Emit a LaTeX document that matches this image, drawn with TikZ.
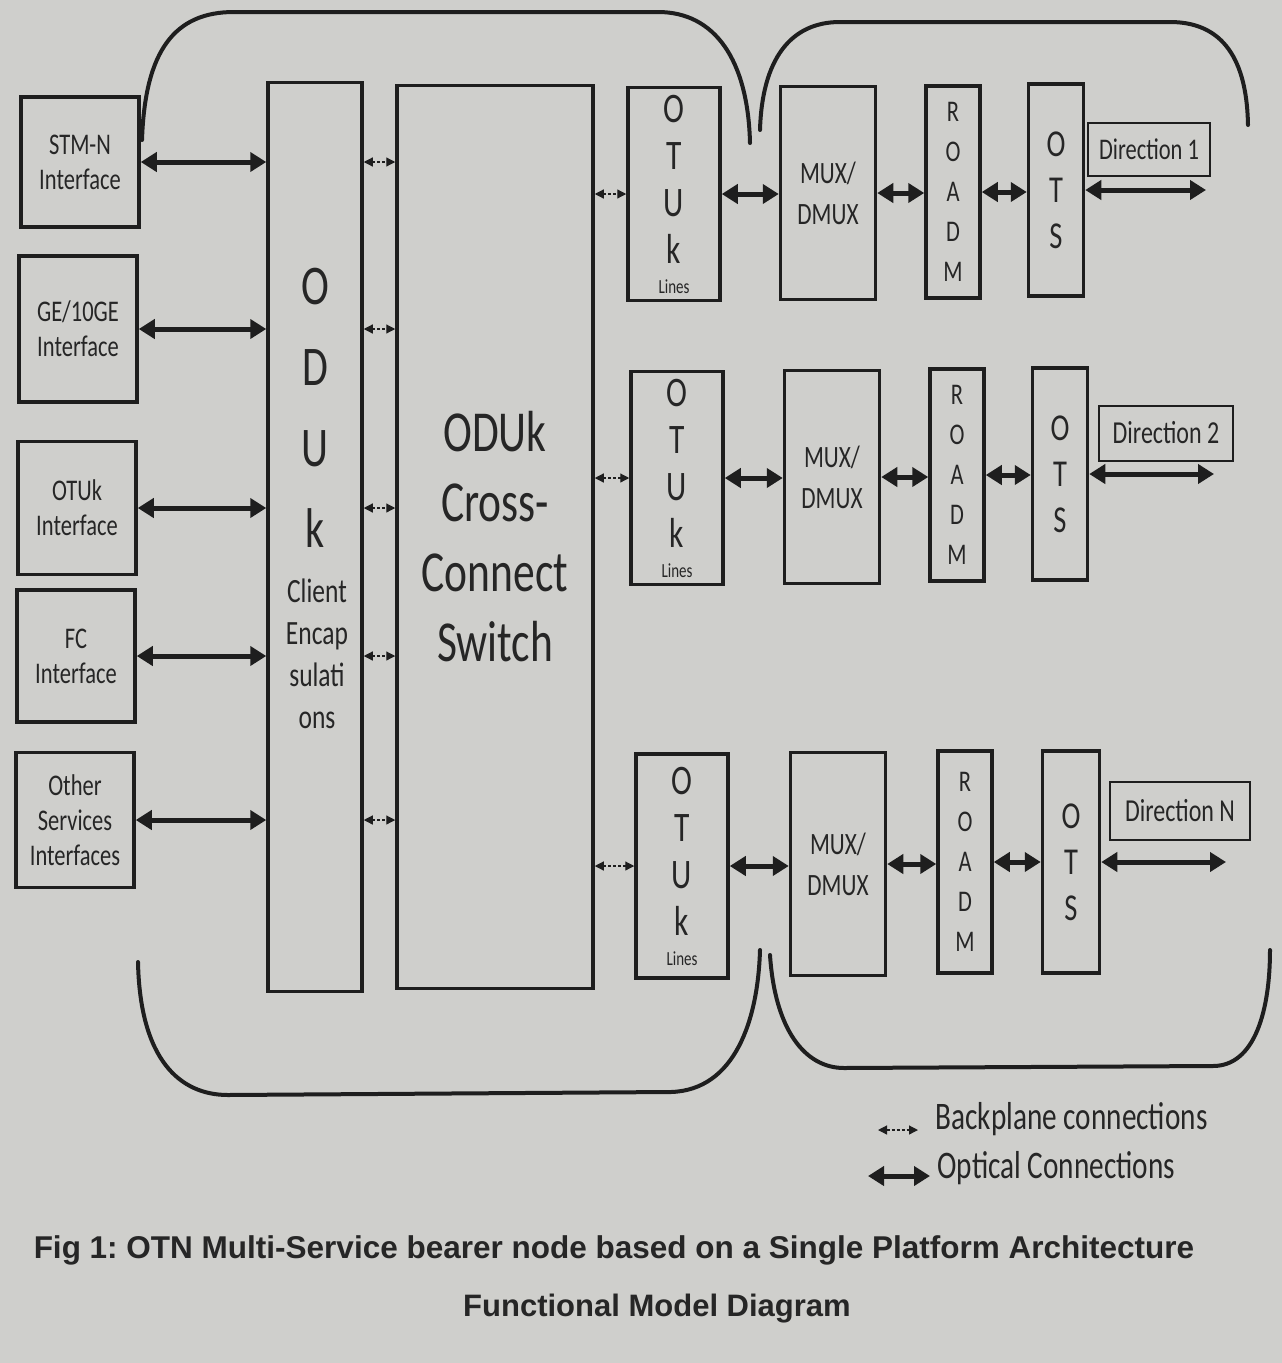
\documentclass[tikz,border=0pt]{standalone}
\usepackage{fontspec}
\setmainfont{Carlito}[FakeStretch=0.75]
\newfontfamily\capfont{Liberation Sans}
\usetikzlibrary{arrows.meta,positioning}
\frenchspacing
\definecolor{paper}{RGB}{207,207,204}
\definecolor{ink}{RGB}{30,30,30}
\definecolor{txt}{RGB}{38,38,38}
\tikzset{
  box/.style={draw=ink, line width=3.5pt, text=txt, align=center, inner sep=0pt},
  ifbox/.style={box, minimum width=118pt, font=\fontsize{30}{35}\selectfont},
  otubox/.style={box, minimum width=92pt, minimum height=213pt, font=\fontsize{42}{47}\selectfont},
  muxbox/.style={box, minimum width=95pt, minimum height=213pt, font=\fontsize{31}{41}\selectfont},
  roadmbox/.style={box, minimum width=54pt, minimum height=212pt, font=\fontsize{30}{40}\selectfont},
  otsbox/.style={box, minimum width=55pt, minimum height=212pt, font=\fontsize{38}{46}\selectfont},
  dirbox/.style={draw=ink, line width=2pt, text=txt, inner sep=0pt, font=\fontsize{32}{36}\selectfont},
  opt/.style={draw=ink, line width=5pt, {Triangle[length=16pt,width=19pt]}-{Triangle[length=16pt,width=19pt]}},
  bp/.style={draw=ink, line width=1.2pt, densely dashed, {Triangle[length=9pt,width=9pt]}-{Triangle[length=9pt,width=9pt]}},
  bracket/.style={draw=ink, line width=4pt, line cap=round}
}
\begin{document}
\begin{tikzpicture}[x=1pt,y=-1pt]
\fill[paper] (0,0) rectangle (1282,1363);
\useasboundingbox (0,0) rectangle (1282,1363);

% client interfaces
\node[ifbox, minimum height=130pt] (stm) at (80,162) {STM-N\\Interface};
\node[ifbox, minimum height=146pt] (ge) at (78,329) {GE/10GE\\Interface};
\node[ifbox, minimum height=133pt] (otuif) at (77,508) {OTUk\\Interface};
\node[ifbox, minimum height=132pt] (fc) at (76,656) {FC\\Interface};
\node[ifbox, minimum height=135pt] (oth) at (75,820) {Other\\Services\\Interfaces};

% ODUk block and switch
\node[box, minimum width=94pt, minimum height=909pt] (odu) at (315,537) {};
\node[text=txt, align=center, font=\fontsize{56}{81}\selectfont] (odul) at (315,408) {O\\D\\U\\k};
\node[text=txt, align=center, font=\fontsize{34}{42}\selectfont] (oduc) at (317,654) {Client\\Encap\\sulati\\ons};
\node[box, minimum width=196pt, minimum height=903pt, font=\fontsize{58}{70}\selectfont] (xc) at (495,537) {ODUk\\Cross-\\Connect\\Switch};

\draw[opt] (stm.east) -- (stm.east -| odu.west);
\draw[opt] (ge.east) -- (ge.east -| odu.west);
\draw[opt] (otuif.east) -- (otuif.east -| odu.west);
\draw[opt] (fc.east) -- (fc.east -| odu.west);
\draw[opt] (oth.east) -- (oth.east -| odu.west);

\draw[bp] (odu.east |- stm.east) -- (xc.west |- stm.east);
\draw[bp] (odu.east |- ge.east) -- (xc.west |- ge.east);
\draw[bp] (odu.east |- otuif.east) -- (xc.west |- otuif.east);
\draw[bp] (odu.east |- fc.east) -- (xc.west |- fc.east);
\draw[bp] (odu.east |- oth.east) -- (xc.west |- oth.east);

% direction 1
\node[otubox] (otu1) at (674,194) {O\\T\\U\\k\\[-17pt]{\fontsize{20}{22}\selectfont Lines}};
\node[muxbox] (mux1) at (828,193) {MUX/\\DMUX};
\node[roadmbox] (roadm1) at (953,192) {R\\O\\A\\D\\M};
\node[otsbox] (ots1) at (1056,190) {O\\T\\S};
\node[dirbox, minimum width=122pt, minimum height=53pt, font=\fontsize{30}{34}\selectfont] (dir1) at (1149,149) {Direction 1};

% direction 2
\node[otubox] (otu2) at (677,478) {O\\T\\U\\k\\[-17pt]{\fontsize{20}{22}\selectfont Lines}};
\node[muxbox] (mux2) at (832,477) {MUX/\\DMUX};
\node[roadmbox] (roadm2) at (957,475) {R\\O\\A\\D\\M};
\node[otsbox] (ots2) at (1060,474) {O\\T\\S};
\node[dirbox, minimum width=134pt, minimum height=55pt] (dir2) at (1166,433) {Direction 2};

% direction N
\node[otubox, minimum height=224pt] (otuN) at (682,866) {O\\T\\U\\k\\[-17pt]{\fontsize{20}{22}\selectfont Lines}};
\node[muxbox, minimum height=223pt] (muxN) at (838,864) {MUX/\\DMUX};
\node[roadmbox, minimum height=222pt] (roadmN) at (965,862) {R\\O\\A\\D\\M};
\node[otsbox, minimum height=222pt, minimum width=57pt] (otsN) at (1071,862) {O\\T\\S};
\node[dirbox, minimum width=140pt, minimum height=58pt] (dirN) at (1180,811) {Direction N};

\draw[bp] (xc.east |- otu1.west) -- (otu1.west);
\draw[opt] (otu1.east) -- (otu1.east -| mux1.west);
\draw[opt] (mux1.east) -- (mux1.east -| roadm1.west);
\draw[opt] (roadm1.east) -- (roadm1.east -| ots1.west);
\draw[opt] (ots1.east) -- ([xshift=-5pt]ots1.east -| dir1.east);

\draw[bp] (xc.east |- otu2.west) -- (otu2.west);
\draw[opt] (otu2.east) -- (otu2.east -| mux2.west);
\draw[opt] (mux2.east) -- (mux2.east -| roadm2.west);
\draw[opt] (roadm2.east) -- (roadm2.east -| ots2.west);
\draw[opt] (ots2.east) -- ([xshift=-20pt]ots2.east -| dir2.east);

\draw[bp] (xc.east |- otuN.west) -- (otuN.west);
\draw[opt] (otuN.east) -- (otuN.east -| muxN.west);
\draw[opt] (muxN.east) -- (muxN.east -| roadmN.west);
\draw[opt] (roadmN.east) -- (roadmN.east -| otsN.west);
\draw[opt] (otsN.east) -- ([xshift=-25pt]otsN.east -| dirN.east);

% brackets
\draw[bracket] (142,140) .. controls (145,50) and (175,12) .. (234,12) -- (658,12) .. controls (715,12) and (748,60) .. (750,143);
\draw[bracket] (760,130) .. controls (762,60) and (790,22) .. (840,22) -- (1170,22) .. controls (1230,22) and (1247,70) .. (1248,125);
\draw[bracket] (138,962) .. controls (140,1060) and (180,1095) .. (228,1095) -- (671,1092) .. controls (735,1090) and (758,1020) .. (760,950);
\draw[bracket] (770,955) .. controls (775,1030) and (805,1068) .. (844,1068) -- (1213,1066) .. controls (1255,1066) and (1270,1010) .. (1270,950);

% legend
\node[anchor=west, text=txt, font=\fontsize{39}{42}\selectfont] (lgbp) at (932,1119) {Backplane connections};
\node[anchor=west, text=txt, font=\fontsize{39}{42}\selectfont] (lgop) at (934,1168) {Optical Connections};
\coordinate (bpa) at (878,1130);
\coordinate (bpb) at (918,1130);
\draw[bp] (bpa) -- (bpb);
\coordinate (opa) at (868,1176);
\coordinate (opb) at (930,1176);
\draw[opt] (opa) -- (opb);

% caption
\node[text=black!85, font={\capfont\bfseries\fontsize{31.5}{35}\selectfont}] (cap1) at (614,1250) {Fig 1: OTN Multi-Service bearer node based on a Single Platform Architecture};
\node[text=black!85, font={\capfont\bfseries\fontsize{31}{35}\selectfont}] (cap2) at (657,1309) {Functional Model Diagram};
\end{tikzpicture}
\end{document}
